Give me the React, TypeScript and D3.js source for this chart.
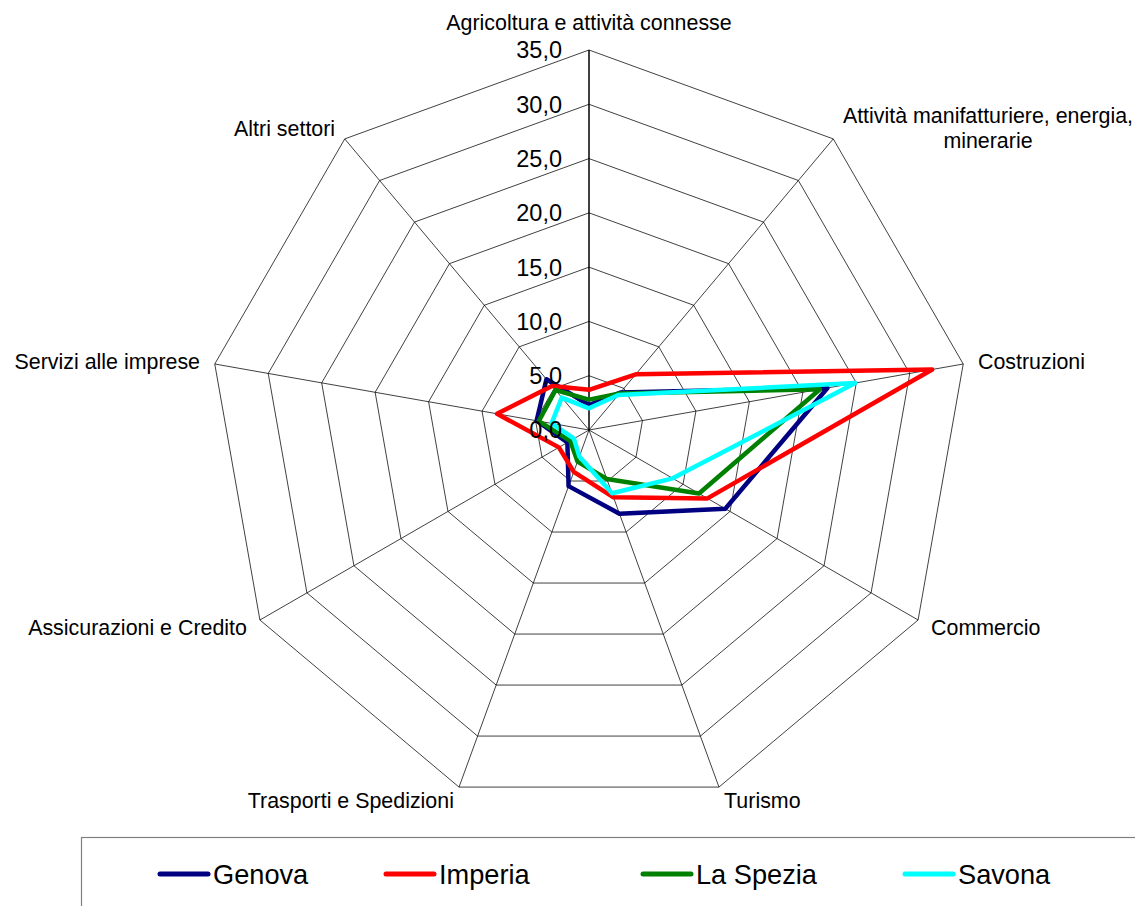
import React, { useEffect, useRef } from "react";
import * as d3 from "d3";

const categories: string[][] = [
  ["Agricoltura e attività connesse"],
  ["Attività manifatturiere, energia,", "minerarie"],
  ["Costruzioni"],
  ["Commercio"],
  ["Turismo"],
  ["Trasporti e Spedizioni"],
  ["Assicurazioni e Credito"],
  ["Servizi alle imprese"],
  ["Altri settori"],
];

const seriesNames = ["Genova", "Imperia", "La Spezia", "Savona"];
const genova = [2.3, 4.5, 22.3, 14.5, 8.2, 5.5, 2.3, 4.9, 6.1];
const imperia = [3.7, 6.7, 32.1, 12.6, 6.6, 4.1, 3.2, 8.6, 5.3];
const laSpezia = [2.8, 4.4, 21.6, 11.7, 4.8, 3.1, 2.0, 4.7, 4.8];
const savona = [2.0, 4.2, 24.9, 8.9, 6.2, 2.6, 1.6, 3.5, 3.9];
const ticks = [0, 5, 10, 15, 20, 25, 30, 35];

const colors = ["#000080", "#FF0000", "#008000", "#00FFFF"];
const legendX = [158, 384, 641, 903];

const W = 1135;
const H = 906;
const CX = 589;
const CY = 430;
const R = 380;
const FONT = "'Liberation Sans', Arial, Helvetica, sans-serif";

export default function App() {
  const ref = useRef<SVGSVGElement | null>(null);

  useEffect(() => {
    const svg = d3.select(ref.current);
    svg.selectAll("*").remove();
    const n = categories.length;
    const r = d3.scaleLinear().domain([0, 35]).range([0, R]);
    const ang = d3.scaleLinear().domain([0, n]).range([0, 2 * Math.PI]);
    const g = svg.append("g").attr("transform", `translate(${CX},${CY})`);
    const idx = d3.range(n);
    const pt = (i: number, v: number): [number, number] => {
      const a = ang(i) - Math.PI / 2;
      return [r(v) * Math.cos(a), r(v) * Math.sin(a)];
    };

    // rings
    ticks.filter((t) => t > 0).forEach((t) => {
      g.append("path")
        .attr("d", "M" + idx.map((i) => pt(i, t).join(",")).join("L") + "Z")
        .attr("fill", "none")
        .attr("stroke", "#000")
        .attr("stroke-width", 0.75);
    });
    // spokes
    idx.forEach((i) => {
      const [x, y] = pt(i, 35);
      g.append("line")
        .attr("x1", 0).attr("y1", 0).attr("x2", x).attr("y2", y)
        .attr("stroke", "#000")
        .attr("stroke-width", i === 0 ? 1.5 : 0.75);
    });

    // series
    const all = [genova, imperia, laSpezia, savona];
    const line = d3
      .lineRadial<number>()
      .angle((_, i) => ang(i))
      .radius((d) => r(d))
      .curve(d3.curveLinearClosed);
    all.forEach((vals, s) => {
      g.append("path")
        .attr("d", line(vals) as string)
        .attr("fill", "none")
        .attr("stroke", colors[s])
        .attr("stroke-width", 4.5)
        .attr("stroke-linejoin", "round");
    });

    // tick labels
    ticks.forEach((t) => {
      g.append("text")
        .attr("x", -27)
        .attr("y", -r(t))
        .attr("dy", "0.36em")
        .attr("text-anchor", "end")
        .attr("font-family", FONT)
        .attr("font-size", 23.5)
        .attr("fill", "#000")
        .text(t.toFixed(1).replace(".", ","));
    });

    // category labels
    categories.forEach((lines, i) => {
      const a = ang(i) - Math.PI / 2;
      const c = Math.cos(a);
      const s = Math.sin(a);
      const [vx, vy] = pt(i, 35);
      const t = g.append("text")
        .attr("font-family", FONT)
        .attr("font-size", 21.4)
        .attr("fill", "#000");
      if (i === 0) {
        t.attr("x", vx).attr("y", vy - 20).attr("text-anchor", "middle").text(lines[0]);
        return;
      }
      const right = c > 0;
      const x0 = vx + (right ? 1 : -1) * Math.max(5, 15 * Math.abs(c));
      const yc = vy + 14 * s;
      if (lines.length === 1) {
        t.attr("x", x0)
          .attr("y", yc)
          .attr("dy", "0.36em")
          .attr("text-anchor", right ? "start" : "end")
          .text(lines[0]);
      } else {
        const lh = 25;
        const spans = lines.map((l, k) =>
          t.append("tspan")
            .attr("y", yc + (k - (lines.length - 1) / 2) * lh)
            .attr("dy", "0.36em")
            .attr("text-anchor", "middle")
            .text(l)
        );
        let maxW = 0;
        spans.forEach((sp) => {
          const node = sp.node() as SVGTextContentElement;
          maxW = Math.max(maxW, node.getComputedTextLength());
        });
        const mid = right ? x0 + maxW / 2 : x0 - maxW / 2;
        spans.forEach((sp) => sp.attr("x", mid));
      }
    });

    // legend
    svg.append("rect")
      .attr("x", 81.5).attr("y", 837.5)
      .attr("width", W).attr("height", 200)
      .attr("fill", "#fff")
      .attr("stroke", "#808080")
      .attr("stroke-width", 1.2);
    seriesNames.forEach((name, s) => {
      const x = legendX[s];
      svg.append("line")
        .attr("x1", x + 2).attr("x2", x + 50)
        .attr("y1", 874).attr("y2", 874)
        .attr("stroke", colors[s])
        .attr("stroke-width", 5)
        .attr("stroke-linecap", "round");
      svg.append("text")
        .attr("x", x + 55)
        .attr("y", 874)
        .attr("dy", "0.36em")
        .attr("font-family", FONT)
        .attr("font-size", 27.2)
        .attr("fill", "#000")
        .text(name);
    });
  }, []);

  return (
    <svg
      ref={ref}
      width={W}
      height={H}
      style={{ position: "absolute", left: 0, top: 0, background: "#fff" }}
    />
  );
}
